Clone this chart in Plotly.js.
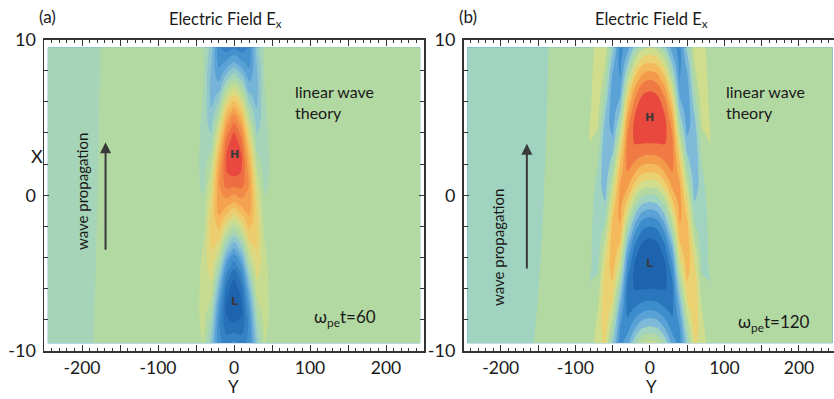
<!DOCTYPE html>
<html>
<head>
<meta charset="utf-8">
<script src="https://cdn.plot.ly/plotly-3.0.1.min.js"></script>
<style>html,body{margin:0;padding:0;background:#fff;}#chart{width:834px;height:399px;}</style>
</head>
<body>
<div id="chart"></div>
<script>
// ---- grid rows: X (vertical axis) ----
const X_ROWS = [-9.5,-8.5,-7.5,-6.5,-5.5,-4.5,-3.5,-2.5,-1.5,-0.5,0.5,1.5,2.5,3.5,4.5,5.5,6.5,7.5,8.5,9.5];
const FLAT = [0,0,0,0,0,0,0,0,0,0,0,0,0,0,0,0,0,0,0,0];

// ---- panel (a): omega_pe t = 60 ; columns over Y, values bottom (X=-9.5) -> top (X=9.5) ----
const A_Y = [-245,-200,-160,-60,-50,-40,-30,-20,-10,0,10,20,30,40,50,60,245];
const A_EDGE = [-0.094,-0.097,-0.100,-0.102,-0.105,-0.108,-0.111,-0.114,-0.116,-0.119,-0.122,-0.125,-0.128,-0.131,-0.133,-0.136,-0.139,-0.142,-0.145,-0.147];
const A_Y0  = [-0.62,-0.84,-0.97,-1.00,-0.91,-0.72,-0.45,-0.13,0.20,0.51,0.76,0.93,1.00,0.96,0.81,0.57,0.26,-0.07,-0.39,-0.67];
const A_Y10 = [-0.68,-0.83,-0.90,-0.86,-0.73,-0.52,-0.25,0.05,0.34,0.59,0.78,0.88,0.89,0.80,0.61,0.36,0.08,-0.22,-0.50,-0.72];
const A_Y20 = [-0.62,-0.62,-0.55,-0.42,-0.25,-0.04,0.17,0.36,0.51,0.60,0.63,0.59,0.48,0.32,0.13,-0.08,-0.28,-0.45,-0.57,-0.63];
const A_Y30 = [-0.24,-0.15,-0.04,0.07,0.17,0.25,0.31,0.33,0.32,0.27,0.19,0.09,-0.02,-0.13,-0.22,-0.29,-0.33,-0.33,-0.29,-0.22];
const A_Y40 = [0.06,0.09,0.12,0.13,0.13,0.11,0.08,0.04,0.00,-0.04,-0.08,-0.11,-0.13,-0.13,-0.12,-0.09,-0.07,-0.06,-0.05,-0.04];
const A_Y50 = [0.03,0.02,0.01,0.00,-0.01,-0.02,-0.03,-0.04,-0.04,-0.04,-0.03,-0.02,-0.01,0.01,0.02,0.03,0.04,0.04,0.04,0.03];

// ---- panel (b): omega_pe t = 120 ----
const B_Y = [-245,-160,-120,-100,-80,-70,-60,-50,-40,-30,-20,-10,0,10,20,30,40,50,60,70,80,100,245];
const B_EDGE = [-0.086,-0.091,-0.097,-0.102,-0.108,-0.114,-0.119,-0.125,-0.131,-0.136,-0.142,-0.147,-0.153,-0.159,-0.164,-0.170,-0.175,-0.181,-0.187,-0.192];
const B_Y0  = [0.13,-0.20,-0.51,-0.76,-0.93,-1.00,-0.96,-0.81,-0.57,-0.26,0.07,0.39,0.67,0.88,0.99,0.99,0.88,0.67,0.39,0.08];
const B_Y10 = [0.085,-0.24,-0.54,-0.78,-0.93,-0.98,-0.92,-0.76,-0.52,-0.21,0.11,0.42,0.69,0.88,0.97,0.96,0.84,0.62,0.34,0.02];
const B_Y20 = [-0.11,-0.40,-0.64,-0.81,-0.89,-0.88,-0.76,-0.56,-0.30,-0.01,0.29,0.55,0.76,0.87,0.90,0.82,0.65,0.41,0.13,-0.17];
const B_Y30 = [-0.43,-0.61,-0.73,-0.76,-0.71,-0.58,-0.39,-0.15,0.10,0.34,0.55,0.69,0.76,0.74,0.64,0.47,0.25,0.00,-0.25,-0.47];
const B_Y40 = [-0.59,-0.54,-0.42,-0.25,-0.06,0.14,0.32,0.47,0.57,0.60,0.57,0.47,0.32,0.14,-0.06,-0.25,-0.42,-0.54,-0.59,-0.59];
const B_Y50 = [-0.21,-0.05,0.12,0.27,0.39,0.47,0.50,0.47,0.39,0.27,0.12,-0.05,-0.21,-0.35,-0.45,-0.50,-0.49,-0.43,-0.32,-0.18];
const B_Y60 = [0.25,0.33,0.37,0.37,0.33,0.25,0.15,0.03,-0.10,-0.22,-0.31,-0.36,-0.38,-0.35,-0.29,-0.19,-0.08,0.02,0.08,0.14];
const B_Y70 = [0.18,0.13,0.08,0.01,-0.05,-0.11,-0.16,-0.19,-0.20,-0.19,-0.15,-0.10,-0.04,0.03,0.09,0.14,0.18,0.20,0.19,0.17];
const B_Y80 = [-0.02,-0.05,-0.06,-0.08,-0.08,-0.07,-0.06,-0.04,-0.02,0.01,0.04,0.06,0.07,0.08,0.08,0.07,0.05,0.03,0.00,-0.03];

// ---- axis tick labels ----
const Y_TICKVALS = [-250,-200,-150,-100,-50,0,50,100,150,200,250];
const Y_TICKTEXT = ['','-200','','-100','','0','','100','','200',''];
const X_TICKVALS = [-10,0,10];
const X_TICKTEXT = ['-10','0','10'];

// ---- table columns (z transposed: one array per Y column) ----
const A_Z = [A_EDGE,A_EDGE,FLAT,FLAT,A_Y50,A_Y40,A_Y30,A_Y20,A_Y10,A_Y0,A_Y10,A_Y20,A_Y30,A_Y40,A_Y50,FLAT,FLAT];
const B_Z = [B_EDGE,B_EDGE,FLAT,FLAT,B_Y80,B_Y70,B_Y60,B_Y50,B_Y40,B_Y30,B_Y20,B_Y10,B_Y0,B_Y10,B_Y20,B_Y30,B_Y40,B_Y50,B_Y60,B_Y70,B_Y80,FLAT,FLAT];

const CSCALE = [
  [0.0,'#1d63ae'],[0.0833,'#2a76bd'],[0.1667,'#3d8ccb'],[0.25,'#5aa2d6'],[0.3333,'#7fbad8'],
  [0.4167,'#a0d3c0'],[0.5,'#b3d9a2'],[0.5833,'#cfdd8c'],[0.6667,'#ead272'],[0.75,'#f3b95a'],
  [0.8333,'#f49b4b'],[0.9167,'#f07a43'],[1.0,'#e8483e']
];

function contourTrace(xs, zs, nBandsHalf, xa, ya) {
  const size = 2/(2*nBandsHalf+1);
  const lim = (2*nBandsHalf-1)/(2*nBandsHalf+1);
  return {
    type:'contour', x: xs, y: X_ROWS, z: zs, transpose: true,
    xaxis: xa, yaxis: ya,
    colorscale: CSCALE, showscale: false, hoverinfo: 'skip',
    autocontour: false,
    contours: {start: -lim, end: lim + 1e-9, size: size, coloring: 'fill', showlines: false},
    line: {width: 0, smoothing: 1.1}
  };
}

const W = 834, H = 399;
const FONT = 'Lato, "Open Sans", sans-serif';
const INK = '#1a1a1a';
function P(px, py, text, o) {
  return Object.assign({xref:'paper', yref:'paper', x: px/W, y: 1 - py/H, text: text, showarrow:false,
    xanchor:'center', yanchor:'middle',
    font:{family:FONT, size:16, color:INK}}, o || {});
}

const yTop = 1 - 39.5/H, yBot = 1 - 351/H;
function xAxis(dom, rng, anchor) {
  return {domain: dom, range: rng, anchor: anchor, tickmode:'array', tickvals: Y_TICKVALS, ticktext: Y_TICKTEXT,
    ticks:'inside', ticklen:6, tickwidth:1, tickcolor:'#333',
    minor:{tickmode:'linear', tick0:0, dtick:10, ticks:'inside', ticklen:3, tickwidth:1, tickcolor:'#333'},
    showline:true, linecolor:'#333', linewidth:1.5, mirror:'ticks', showgrid:false, zeroline:false,
    ticklabelstandoff: 0, tickfont:{family:FONT, size:17.5, color:INK}, fixedrange:true};
}
function yAxis(anchor, mirror) {
  return {domain:[yBot, yTop], range:[-10,10], anchor: anchor, tickmode:'array', tickvals: X_TICKVALS, ticktext: X_TICKTEXT,
    ticks:'inside', ticklen:5, tickwidth:1, tickcolor:'#333',
    minor:{tickmode:'linear', tick0:0, dtick:2, ticks:'inside', ticklen:4, tickwidth:1, tickcolor:'#333'},
    showline:true, linecolor:'#333', linewidth:1.5, mirror: mirror, showgrid:false, zeroline:false,
    ticklabelstandoff: 3, tickfont:{family:FONT, size:18, color:INK}, fixedrange:true};
}

const data = [
  contourTrace(A_Y, A_Z, 8, 'x', 'y'),
  contourTrace(B_Y, B_Z, 6, 'x2', 'y2')
];

const arrowStyle = {showarrow:true, arrowhead:2, arrowsize:1.1, arrowwidth:2, arrowcolor:'#3a3a3a', text:''};
const HL = {family:'"DejaVu Sans", sans-serif', size:11, color:'#3a3a3a', weight:'bold'};

const annotations = [
  P(47, 16, '(a)', {font:{family:FONT, size:17, color:INK}}),
  P(468, 16, '(b)', {font:{family:FONT, size:17, color:INK}}),
  P(226, 19, 'Electric Field E<sub>x</sub>', {font:{family:FONT, size:16.5, color:INK}}),
  P(651, 19, 'Electric Field E<sub>x</sub>', {font:{family:FONT, size:16.5, color:INK}}),
  P(293, 102, 'linear wave<br>theory', {xanchor:'left', align:'left'}),
  P(724, 102, 'linear wave<br>theory', {xanchor:'left', align:'left'}),
  P(312, 318, 'ω<sub>pe</sub>t=60', {xanchor:'left', font:{family:FONT, size:17, color:INK}}),
  P(736, 323, 'ω<sub>pe</sub>t=120', {xanchor:'left', font:{family:FONT, size:17, color:INK}}),
  P(82, 192, 'wave propagation', {textangle:-90, font:{family:FONT, size:15, color:INK}}),
  P(498, 247, 'wave propagation', {textangle:-90, font:{family:FONT, size:15, color:INK}}),
  P(37, 156, 'X', {font:{family:FONT, size:18, color:INK}}),
  P(234, 386, 'Y', {font:{family:FONT, size:17, color:INK}, borderpad:0}),
  P(651, 386, 'Y', {font:{family:FONT, size:17, color:INK}, borderpad:0}),
  Object.assign({xref:'x', yref:'y', axref:'x', ayref:'y', x:-169, y:3.4, ax:-169, ay:-3.6}, arrowStyle),
  Object.assign({xref:'x2', yref:'y2', axref:'x2', ayref:'y2', x:-165, y:3.3, ax:-165, ay:-4.8}, arrowStyle),
  {xref:'x', yref:'y', x:0, y:2.6, text:'H', showarrow:false, font:HL},
  {xref:'x', yref:'y', x:0, y:-6.8, text:'L', showarrow:false, font:HL},
  {xref:'x2', yref:'y2', x:0, y:5.0, text:'H', showarrow:false, font:HL},
  {xref:'x2', yref:'y2', x:0, y:-4.4, text:'L', showarrow:false, font:HL}
];

const layout = {
  width: W, height: H, margin:{l:0, r:0, t:0, b:0}, autosize:false,
  paper_bgcolor:'#fff', plot_bgcolor:'#fff', showlegend:false,
  font:{family:FONT, size:17, color:INK},
  xaxis: xAxis([44/W, 424/W], [-250,250], 'y'),
  yaxis: yAxis('x', 'ticks'),
  xaxis2: xAxis([463.5/W, 1], [-250,247], 'y2'),
  yaxis2: yAxis('x2', false),
  annotations: annotations
};

Plotly.newPlot('chart', data, layout, {displayModeBar:false, staticPlot:true});
</script>
</body>
</html>
